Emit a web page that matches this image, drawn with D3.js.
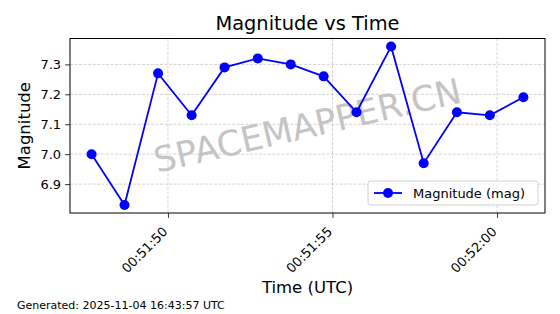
<!DOCTYPE html>
<html>
<head>
<meta charset="utf-8">
<script src="https://cdn.jsdelivr.net/npm/d3@7"></script>
<style>
  body { margin: 0; background: #fff; }
  svg { display: block; }
  svg text { font-family: "DejaVu Sans", sans-serif; }
</style>
</head>
<body>
<div class="chart"></div>
<script>
const width = 560
const height = 314

// data
const times = ["00:51:47.680", "00:51:48.680", "00:51:49.700", "00:51:50.720", "00:51:51.720",
               "00:51:52.730", "00:51:53.730", "00:51:54.730", "00:51:55.730", "00:51:56.780",
               "00:51:57.770", "00:51:58.780", "00:51:59.780", "00:52:00.800"]
const magnitudes = [7.00, 6.83, 7.27, 7.13, 7.29, 7.32, 7.30, 7.26, 7.14, 7.36, 6.97, 7.14, 7.13, 7.19]
const yTicks = [6.9, 7.0, 7.1, 7.2, 7.3]
const xTicks = ["00:51:50", "00:51:55", "00:52:00"]

const parseTime = d3.utcParse("%H:%M:%S.%L")
const parseTick = d3.utcParse("%H:%M:%S")
const data = times.map((t, i) => ({ time: parseTime(t), mag: magnitudes[i] }))

const margin = { top: 38.5, right: 15, bottom: 101, left: 70 }

const svg = d3.select('.chart')
    .append('svg')
    .attr('width', width)
    .attr('height', height)

// matplotlib-like 5% margins around the data
const xExt = d3.extent(data, d => d.time)
const xPad = (xExt[1] - xExt[0]) * 0.05
const yExt = d3.extent(data, d => d.mag)
const yPad = (yExt[1] - yExt[0]) * 0.05

const x = d3.scaleUtc()
    .domain([new Date(+xExt[0] - xPad), new Date(+xExt[1] + xPad)])
    .range([margin.left, width - margin.right])

const y = d3.scaleLinear()
    .domain([yExt[0] - yPad, yExt[1] + yPad])
    .range([height - margin.bottom, margin.top])

const plotTop = margin.top, plotBottom = height - margin.bottom
const plotLeft = margin.left, plotRight = width - margin.right

// grid
const grid = svg.append("g")
grid.selectAll(".gx")
    .data(xTicks.map(parseTick))
    .join("line")
    .attr("x1", d => x(d)).attr("x2", d => x(d))
    .attr("y1", plotTop).attr("y2", plotBottom)
grid.selectAll(".gy")
    .data(yTicks)
    .join("line")
    .attr("x1", plotLeft).attr("x2", plotRight)
    .attr("y1", d => y(d)).attr("y2", d => y(d))
grid.selectAll("line")
    .attr("stroke", "#b0b0b0")
    .attr("stroke-opacity", 0.7)
    .attr("stroke-width", 0.8)
    .attr("stroke-dasharray", "3,1.5")

// watermark
svg.append("text")
    .attr("transform", `translate(${(plotLeft + plotRight) / 2}, ${(plotTop + plotBottom) / 2}) rotate(-13)`)
    .attr("text-anchor", "middle")
    .attr("dominant-baseline", "central")
    .attr("font-size", "35px")
    .attr("fill", "#c4c4c4")
    .text("SPACEMAPPER.CN")

// line + markers
const line = d3.line().x(d => x(d.time)).y(d => y(d.mag))
svg.append("path")
    .datum(data)
    .attr("fill", "none")
    .attr("stroke", "#0000ff")
    .attr("stroke-width", 1.8)
    .attr("d", line)
svg.append("g")
    .selectAll("circle")
    .data(data)
    .join("circle")
    .attr("cx", d => x(d.time))
    .attr("cy", d => y(d.mag))
    .attr("r", 5)
    .attr("fill", "#0000ff")

// axes
const xAxis = svg.append("g")
    .attr("transform", `translate(0, ${plotBottom})`)
    .call(d3.axisBottom(x).tickValues(xTicks.map(parseTick)).tickFormat(d3.utcFormat("%H:%M:%S")).tickSize(4.9).tickSizeOuter(0))
    .attr("font-family", null)
xAxis.select(".domain").remove()
xAxis.selectAll("text")
    .attr("font-size", "13px")
    .attr("fill", "#000")
    .attr("text-anchor", "end")
    .attr("dy", null)
    .attr("y", 0)
    .attr("transform", "translate(0, 19.5) rotate(-45)")

const yAxis = svg.append("g")
    .attr("transform", `translate(${plotLeft}, 0)`)
    .call(d3.axisLeft(y).tickValues(yTicks).tickFormat(d3.format(".1f")).tickSize(4.9).tickPadding(4))
    .attr("font-family", null)
yAxis.select(".domain").remove()
yAxis.selectAll("text").attr("font-size", "13px").attr("fill", "#000")
svg.selectAll(".tick line").attr("stroke", "#000").attr("stroke-width", 0.8)

// frame
svg.append("rect")
    .attr("x", plotLeft).attr("y", plotTop)
    .attr("width", plotRight - plotLeft).attr("height", plotBottom - plotTop)
    .attr("fill", "none").attr("stroke", "#000").attr("stroke-width", 1)

// title and labels
svg.append("text")
    .attr("x", (plotLeft + plotRight) / 2).attr("y", 30)
    .attr("text-anchor", "middle").attr("font-size", "19.4px")
    .text("Magnitude vs Time")
svg.append("text")
    .attr("transform", `translate(30, ${(plotTop + plotBottom) / 2}) rotate(-90)`)
    .attr("text-anchor", "middle").attr("font-size", "16.5px")
    .text("Magnitude")
svg.append("text")
    .attr("x", (plotLeft + plotRight) / 2).attr("y", 293)
    .attr("text-anchor", "middle").attr("font-size", "16.5px")
    .text("Time (UTC)")
svg.append("text")
    .attr("x", 17).attr("y", 308.5)
    .attr("font-size", "11px")
    .text("Generated: 2025-11-04 16:43:57 UTC")

// legend
const legend = svg.append("g").attr("transform", "translate(368, 181)")
legend.append("rect")
    .attr("width", 170).attr("height", 24).attr("rx", 2.5)
    .attr("fill", "#fff").attr("fill-opacity", 0.8)
    .attr("stroke", "#d0d0d0")
legend.append("line")
    .attr("x1", 6).attr("x2", 34).attr("y1", 12).attr("y2", 12)
    .attr("stroke", "#0000ff").attr("stroke-width", 1.8)
legend.append("circle").attr("cx", 20).attr("cy", 12).attr("r", 5).attr("fill", "#0000ff")
legend.append("text")
    .attr("x", 45).attr("y", 17)
    .attr("font-size", "13px")
    .text("Magnitude (mag)")
</script>
</body>
</html>
